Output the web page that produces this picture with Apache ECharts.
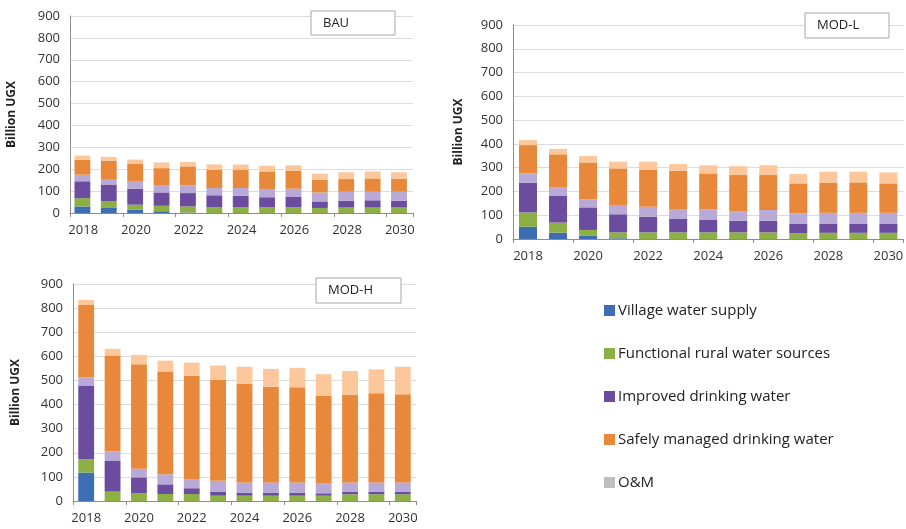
<!DOCTYPE html>
<html><head><meta charset="utf-8">
<script src="https://cdn.jsdelivr.net/npm/echarts@6/dist/echarts.min.js"></script>
<style>html,body{margin:0;padding:0;background:#fff}#c{width:906px;height:529px}</style>
</head><body><div id="c"></div>
<script>
const years = ['2018','2019','2020','2021','2022','2023','2024','2025','2026','2027','2028','2029','2030'];
const yTicks = [0,100,200,300,400,500,600,700,800,900];
const seriesNames = ['Village water supply','Functional rural water sources','Improved drinking water','Improved O&M','Safely managed drinking water','Safely managed O&M'];
// BAU
const bauVillage  = [30,23,15,8,2,0,0,0,0,0,0,0,0];
const bauRural    = [38,30,23,25,28,27,27,27,27,23,25,25,25];
const bauImproved = [77,77,73,61,61,54,52,45,46,30,31,33,31];
const bauImpOM    = [30,22,32,31,35,33,35,38,38,41,41,39,41];
const bauSafe     = [68,87,81,80,87,84,84,80,81,58,58,61,60];
const bauSafeOM   = [19,17,20,26,20,24,23,26,26,28,31,32,29];
// MOD-L
const modLVillage  = [52,27,13,3,0,0,0,0,0,0,0,0,0];
const modLRural    = [60,42,25,25,28,28,28,28,28,24,26,26,26];
const modLImproved = [125,112,95,76,66,56,52,49,49,39,37,37,37];
const modLImpOM    = [39,35,34,36,42,42,44,38,45,45,47,47,47];
const modLSafe     = [119,140,155,157,156,161,152,154,147,126,126,128,124];
const modLSafeOM   = [21,23,27,28,33,28,34,37,41,39,47,45,46];
// MOD-H
const modHVillage  = [118,0,0,0,0,0,0,0,0,0,0,0,0];
const modHRural    = [56,39,32,29,29,22,22,22,22,22,28,28,28];
const modHImproved = [305,127,66,40,24,17,13,13,13,10,11,11,11];
const modHImpOM    = [34,39,36,42,38,45,42,42,42,41,38,38,38];
const modHSafe     = [300,398,433,426,428,418,408,397,395,363,363,370,366];
const modHSafeOM   = [21,28,39,45,55,60,72,74,80,90,99,99,114];

const colors = ['#3d6db3','#8cb043','#6c4c9e','#b8a9d6','#e8883a','#fbc79b'];
const panels = [
  {name:'BAU', data:[bauVillage,bauRural,bauImproved,bauImpOM,bauSafe,bauSafeOM]},
  {name:'MOD-L', data:[modLVillage,modLRural,modLImproved,modLImpOM,modLSafe,modLSafeOM]},
  {name:'MOD-H', data:[modHVillage,modHRural,modHImproved,modHImpOM,modHSafe,modHSafeOM]}
];
const font = '"Open Sans", Lato, sans-serif';
const grids = [
  {left:70, right:493, top:16, bottom:316},
  {left:513, right:-4, top:25, bottom:290},
  {left:73, right:490, top:284, bottom:28}
];
const nameGaps = [52,48,51];
const xAxes = [], yAxes = [], series = [];
grids.forEach((g,i)=>{
  xAxes.push({type:'category', gridIndex:i, data:years,
    axisLine:{lineStyle:{color:'#8c8c8c'}},
    axisTick:{show:true, length:4, lineStyle:{color:'#8c8c8c'}},
    axisLabel:{interval:1, margin:11, fontSize:13, color:'#333', fontFamily:font}});
  yAxes.push({type:'value', gridIndex:i, min:yTicks[0], max:yTicks[yTicks.length-1], interval:100,
    name:'Billion UGX', nameLocation:'middle', nameGap:nameGaps[i],
    nameTextStyle:{fontWeight:'bold', fontSize:12, color:'#222', fontFamily:font},
    axisLine:{show:true, lineStyle:{color:'#8c8c8c'}},
    axisTick:{show:false},
    splitLine:{lineStyle:{color:'#dcdcdc'}},
    axisLabel:{margin:10, fontSize:13, color:'#333', fontFamily:font}});
  panels[i].data.forEach((arr,k)=>{
    series.push({type:'bar', name:seriesNames[k], xAxisIndex:i, yAxisIndex:i, stack:'s'+i,
      data:arr, barWidth:'60%', itemStyle:{color:colors[k]}, emphasis:{disabled:true}});
  });
});
series.push({type:'bar', name:'O&M', xAxisIndex:0, yAxisIndex:0, stack:'om', data:[], itemStyle:{color:'#bfbfbf'}});

const boxes = [
  {x:311,y:11,w:84,h:24,t:'BAU',tx:323},
  {x:805,y:13,w:84,h:25,t:'MOD-L',tx:817},
  {x:316,y:278,w:85,h:25,t:'MOD-H',tx:328}
];
const graphic = [];
boxes.forEach(b=>{
  graphic.push({type:'rect', shape:{x:b.x,y:b.y,width:b.w,height:b.h}, style:{fill:'#fff', stroke:'#a6a6a6', lineWidth:1}, z:100});
  graphic.push({type:'text', x:b.tx, y:b.y+b.h/2, style:{text:b.t, fill:'#222', font:'13px '+font, textVerticalAlign:'middle'}, z:101});
});

const chart = echarts.init(document.getElementById('c'));
chart.setOption({
  animation:false,
  grid:grids, xAxis:xAxes, yAxis:yAxes, series:series, graphic:graphic,
  legend:{orient:'vertical', left:599, top:298, itemGap:28, itemWidth:11, itemHeight:11, icon:'rect',
    data:['Village water supply','Functional rural water sources','Improved drinking water','Safely managed drinking water','O&M'],
    textStyle:{fontSize:15, color:'#222', fontFamily:font, padding:[0,0,0,-2]}}
});
</script></body></html>
